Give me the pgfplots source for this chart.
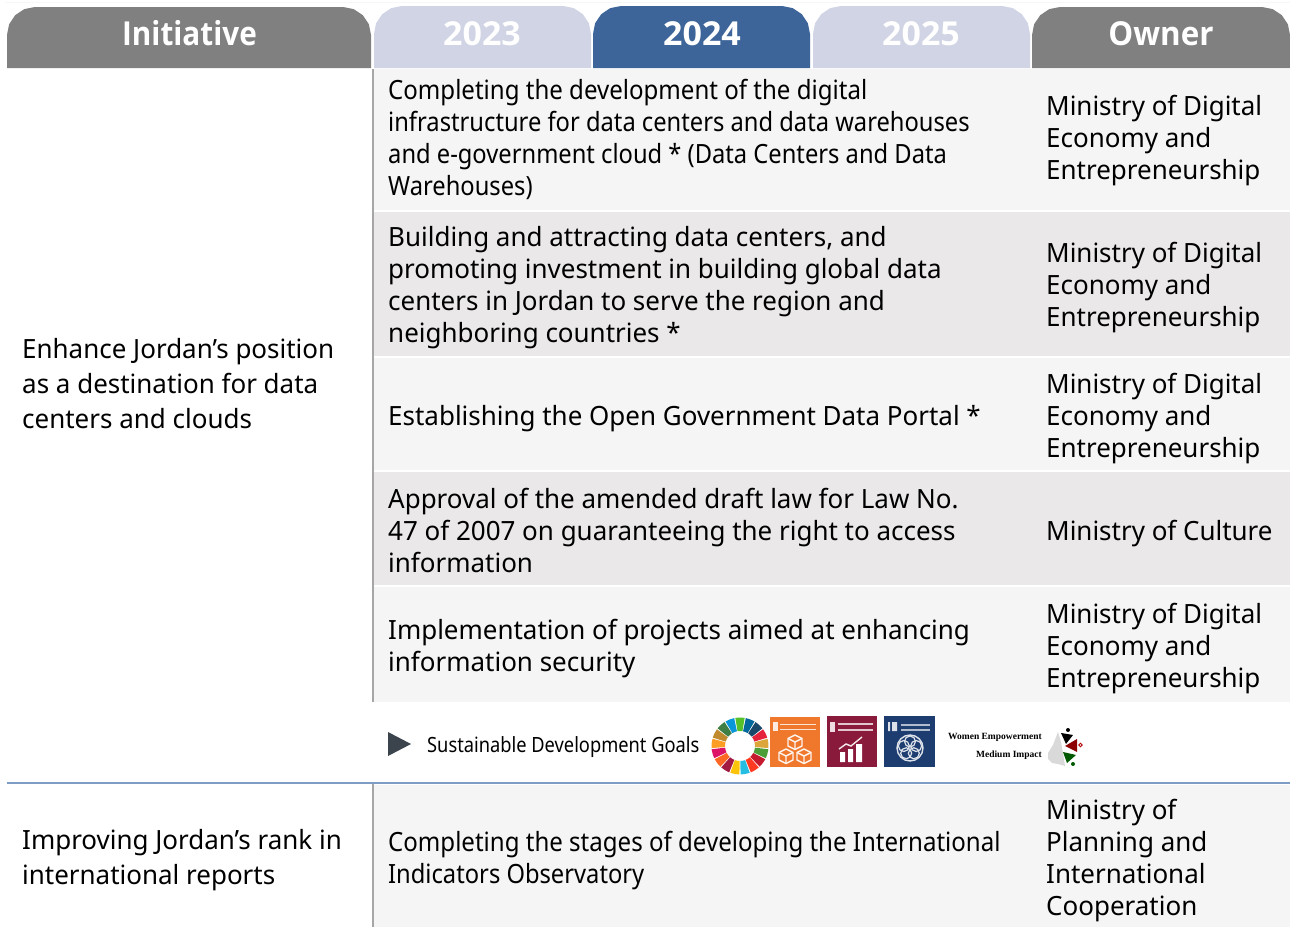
\documentclass[border=0pt]{standalone}
\usepackage{pgfplots}
\pgfplotsset{compat=1.18}
\usepackage{fontspec}
\setmainfont[FakeStretch=0.98]{Noto Sans}
\newfontfamily\condf[FakeStretch=0.895]{Noto Sans}
\newfontfamily\condg[FakeStretch=0.908]{Noto Sans}
\newfontfamily\smallf[FakeStretch=0.87]{Noto Sans}
\newfontfamily\headf[FakeStretch=0.9]{Open Sans Bold}
\newfontfamily\headn[FakeStretch=1.03]{Open Sans Bold}
\newfontfamily\heado[FakeStretch=0.95]{Open Sans Bold}
\newfontfamily\serifb{Liberation Serif}
\definecolor{hgray}{HTML}{808080}
\definecolor{hlite}{HTML}{D0D4E4}
\definecolor{hblue}{HTML}{3D6599}
\definecolor{rowa}{HTML}{F5F5F5}
\definecolor{rowb}{HTML}{EAE8E9}
\definecolor{vline}{HTML}{A6A6A6}
\definecolor{bline}{HTML}{7F9CC4}
\definecolor{torange}{HTML}{F0782D}
\definecolor{tmaroon}{HTML}{8A1A3B}
\definecolor{tnavy}{HTML}{1D3D70}
\definecolor{playc}{HTML}{3B444C}
\newcommand{\rowrect}[5]{\addplot[fill=#5,draw=none,forget plot] coordinates {(#1,#3)(#2,#3)(#2,#4)(#1,#4)} --cycle;}
\newcommand{\tab}[4]{\addplot[fill=#4,draw=none,forget plot] coordinates {(#1,68)(#1,{#3+28})({#1+2.1},{#3+17.3})({#1+8.2},{#3+8.2})({#1+17.3},{#3+2.1})({#1+28},#3)({#2-28},#3)({#2-17.3},{#3+2.1})({#2-8.2},{#3+8.2})({#2-2.1},{#3+17.3})(#2,{#3+28})(#2,68)} --cycle;}
\newcommand{\tl}[3]{\node[anchor=base west,inner sep=0pt,text=black,font=\fontsize{26.5}{32}\selectfont] at (axis cs:#1,#2) {#3};}
\newcommand{\tc}[3]{\node[anchor=base west,inner sep=0pt,text=black,font=\condf\fontsize{26.5}{32}\selectfont] at (axis cs:#1,#2) {#3};}
\newcommand{\td}[3]{\node[anchor=base west,inner sep=0pt,text=black,font=\condg\fontsize{26.5}{32}\selectfont] at (axis cs:#1,#2) {#3};}
\newcommand{\hd}[3]{\node[anchor=base,inner sep=0pt,text=white,font=#3\fontsize{33}{36}\selectfont] at (axis cs:#1,45) {#2};}
\begin{document}
\begin{tikzpicture}
\begin{axis}[at={(0pt,0pt)},anchor=south west,scale only axis,width=1290pt,height=927pt,xmin=0,xmax=1290,ymin=0,ymax=927,y dir=reverse,hide axis,clip=false]
% page
\rowrect{0}{1290}{0}{927}{white}
\addplot[draw=black!3,line width=1.5pt,forget plot] coordinates {(5,2.5)(1290,2.5)};
% header tabs
\tab{7}{371}{7}{hgray}
\tab{374}{591}{6}{hlite}
\tab{593}{810}{6}{hblue}
\tab{813}{1030}{6}{hlite}
\tab{1032}{1290}{7}{hgray}
\hd{189.5}{Initiative}{\headf}
\hd{482}{2023}{\headn}
\hd{702}{2024}{\headn}
\hd{921}{2025}{\headn}
\hd{1161}{Owner}{\heado}
% rows
\rowrect{374}{1290}{69}{210}{rowa}
\rowrect{374}{1290}{212}{356}{rowb}
\rowrect{374}{1290}{358}{470}{rowa}
\rowrect{374}{1290}{472}{585}{rowb}
\rowrect{374}{1290}{587}{702}{rowa}
\rowrect{374}{1290}{785}{927}{rowa}
\addplot[draw=vline,line width=2pt,forget plot] coordinates {(373,69)(373,702)};
\addplot[draw=vline,line width=2pt,forget plot] coordinates {(373,784)(373,927)};
\addplot[draw=bline,line width=1.6pt,forget plot] coordinates {(7,783)(1290,783)};
% texts
\tl{22}{358}{Enhance Jordan’s position}
\tl{22}{393}{as a destination for data}
\tl{22}{428}{centers and clouds}
\tl{22}{849}{Improving Jordan’s rank in}
\tl{22}{884}{international reports}
\td{388}{99}{Completing the development of the digital}
\tc{388}{131}{infrastructure for data centers and data warehouses}
\tc{388}{163}{and e-government cloud * (Data Centers and Data}
\tc{388}{195}{Warehouses)}
\tl{388}{246}{Building and attracting data centers, and}
\tl{388}{278}{promoting investment in building global data}
\tl{388}{310}{centers in Jordan to serve the region and}
\tl{388}{342}{neighboring countries *}
\tl{388}{425}{Establishing the Open Government Data Portal *}
\tl{388}{508}{Approval of the amended draft law for Law No.}
\tl{388}{540}{47 of 2007 on guaranteeing the right to access}
\tl{388}{572}{information}
\tl{388}{639}{Implementation of projects aimed at enhancing}
\tl{388}{671}{information security}
\td{388}{851}{Completing the stages of developing the International}
\tc{388}{883}{Indicators Observatory}
\tl{1046}{115}{Ministry of Digital}
\tl{1046}{147}{Economy and}
\tl{1046}{179}{Entrepreneurship}
\tl{1046}{262}{Ministry of Digital}
\tl{1046}{294}{Economy and}
\tl{1046}{326}{Entrepreneurship}
\tl{1046}{393}{Ministry of Digital}
\tl{1046}{425}{Economy and}
\tl{1046}{457}{Entrepreneurship}
\tl{1046}{540}{Ministry of Culture}
\tl{1046}{623}{Ministry of Digital}
\tl{1046}{655}{Economy and}
\tl{1046}{687}{Entrepreneurship}
\tl{1046}{819}{Ministry of}
\tl{1046}{851}{Planning and}
\tl{1046}{883}{International}
\tl{1046}{915}{Cooperation}
% goals strip
\addplot[fill=playc,draw=none,forget plot] coordinates {(388,732)(411,744)(388,756)} --cycle;
\node[anchor=base west,inner sep=0pt,font=\smallf\fontsize{21}{24}\selectfont] at (axis cs:427,752) {Sustainable Development Goals};
\rowrect{770}{820}{717}{767}{torange}
\rowrect{827}{877}{716}{767}{tmaroon}
\rowrect{884}{935}{716}{767}{tnavy}
\node[anchor=base east,inner sep=0pt,font=\serifb\bfseries\fontsize{9.5}{10}\selectfont] at (axis cs:1042,739) {Women Empowerment};
\node[anchor=base east,inner sep=0pt,font=\serifb\bfseries\fontsize{9.5}{10}\selectfont] at (axis cs:1042,757) {Medium Impact};
\end{axis}
\begin{scope}[x=1pt,y=-1pt,yshift=927pt]
% SDG wheel
\foreach \i/\c in {0/56C02B,1/00689D,2/19486A,3/E5243B,4/DDA63A,5/4C9F38,6/C5192D,7/FF3A21,8/26BDE2,9/FCC30B,10/A21942,11/FD6925,12/DD1367,13/FD9D24,14/BF8B2E,15/3F7E44,16/0A97D9}{
  \definecolor{sc}{HTML}{\c}
  \pgfmathsetmacro\a{-90+\i*360/17-9.4}
  \pgfmathsetmacro\m{\a+9.4}
  \pgfmathsetmacro\b{\a+18.8}
  \fill[sc] ({740+28.5*cos(\a)},{746+28.5*sin(\a)}) -- ({740+28.5*cos(\m)},{746+28.5*sin(\m)}) -- ({740+28.5*cos(\b)},{746+28.5*sin(\b)}) -- ({740+15*cos(\b)},{746+15*sin(\b)}) -- ({740+15*cos(\m)},{746+15*sin(\m)}) -- ({740+15*cos(\a)},{746+15*sin(\a)}) -- cycle;
}
% tile 9
\fill[white!85!torange] (773,722) rectangle (778,731);
\foreach \y in {723.5,728.5}{\fill[white!80!torange] (780,\y) rectangle (816,\y+1.6);}
\begin{scope}[white!92!torange,line width=1.4pt,line join=round]
\foreach \cx/\cy in {795/742,786/756,804/756}{
  \draw (\cx,\cy-7) -- (\cx+7,\cy-3.5) -- (\cx+7,\cy+4) -- (\cx,\cy+7.5) -- (\cx-7,\cy+4) -- (\cx-7,\cy-3.5) -- cycle;
  \draw (\cx-7,\cy-3.5) -- (\cx,\cy) -- (\cx+7,\cy-3.5) (\cx,\cy) -- (\cx,\cy+7.5);
}
\end{scope}
% tile 8
\fill[white!85!tmaroon] (830,722) rectangle (835,732);
\foreach \y in {723,729}{\fill[white!75!tmaroon] (838,\y) rectangle (873,\y+1.6);}
\fill[white] (840,752) rectangle (845,762) (848,749) rectangle (853,762) (856,744) rectangle (862,762);
\draw[white!90!tmaroon,line width=1.4pt] (839,749) -- (846,744) -- (851,746) -- (862,737);
% tile 17
\fill[white!85!tnavy] (888,722) rectangle (890,731) (892,722) rectangle (897,731);
\foreach \y in {724,729}{\fill[white!65!tnavy] (901,\y) rectangle (930,\y+1.6);}
\draw[white!85!tnavy,line width=1.4pt] (910,748) circle[radius=13];
\foreach \t in {-90,-18,54,126,198}{\draw[white!85!tnavy,line width=1.2pt] ({910+6.5*cos(\t)},{748+6.5*sin(\t)}) circle[radius=5.5];}
% women icon
\fill[black!15] (1058,732) -- (1061,742) -- (1063,753) -- (1065,766) -- (1058,764) -- (1052,763) -- (1048,759) -- (1048,753) -- (1053,745) -- cycle;
\fill[black] (1061,733) -- (1073,735) -- (1066,744) -- cycle;
\fill[black] (1068,730) circle[radius=2];
\fill[red!55!black] (1065,746) -- (1077,739) -- (1077,752) -- cycle;
\draw[red!70!black,line width=.9pt] (1080.5,745) circle[radius=1.7];
\fill[green!35!black] (1063,752) -- (1076,755) -- (1067,763) -- cycle;
\fill[green!35!black] (1073,764) circle[radius=2];
\end{scope}
\pgfresetboundingbox
\path[use as bounding box] (0,0) rectangle (1290pt,927pt);
\end{tikzpicture}
\end{document}
